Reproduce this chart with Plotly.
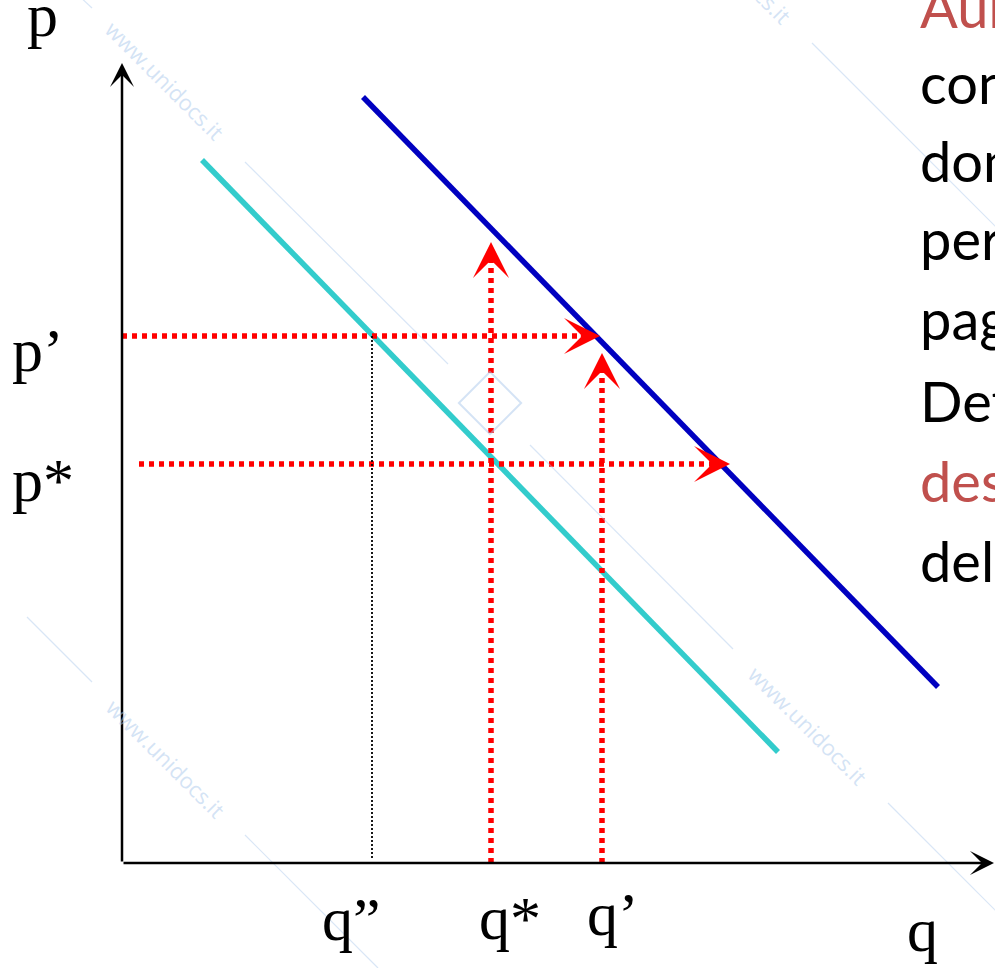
import plotly.graph_objects as go

# coordinates: q to the right, p upwards, origin at the corner of the axes
# demand curves (end points)
q_d = [80, 656]
p_d = [703, 111]
q_d2 = [241, 816]
p_d2 = [766, 176]

# reference levels
p_prime = 527
p_star = 399
q_second = 250
q_star = 369
q_prime = 480

# arrow tips / starts of the dotted guides
p_prime_tip = 478
p_star_start = 17
p_star_tip = 608
q_star_tip = 621
q_prime_tip = 510
q_second_low = 5

# axes ends
q_axis_end = 872
p_axis_end = 800

# text on the right (cut by the page border)
side_lines = ["Aumento", "con", "domanda", "per", "pagare", "Determina", "desiderio", "della"]
side_colors = ["#C0504D", "black", "black", "black", "black", "black", "#C0504D", "black"]
side_y = [857, 781, 703, 625, 545, 463, 383, 303]

# axis labels: text, q, p
labels = ["p", "p\u2019", "p*", "q\u201d", "q*", "q\u2019", "q"]
labels_q = [-97, -112, -112, 198, 355, 463, 783]
labels_p = [848, 513, 383, -56, -55, -51, -67]

# watermark
wm_text = "www.unidocs.it"
wm_x = [165, 166, 808, 732]
wm_y = [80, 758, 725, -36]
wm_lines = [
    (123, 701, 326, 499),
    (408, 418, 611, 214),
    (690, 820, 893, 617),
    (766, 60, 969, -143),
    (-95, 246, -30, 181),
    (123, 28, 256, -105),
    (-60, 883, -30, 855),
]

W, H = 995, 968
red = "#FF0000"
wm_col = "rgba(170,200,235,0.5)"

fig = go.Figure()

fig.add_trace(go.Scatter(x=q_d, y=p_d, mode="lines",
                         line=dict(color="#33CCCC", width=5.5)))
fig.add_trace(go.Scatter(x=q_d2, y=p_d2, mode="lines",
                         line=dict(color="#0000C0", width=5.5)))

dot = dict(color=red, width=5.5, dash="5px,5px")
fig.add_trace(go.Scatter(x=[0, p_prime_tip - 10], y=[p_prime, p_prime], mode="lines", line=dot))
fig.add_trace(go.Scatter(x=[p_star_start, p_star_tip - 10], y=[p_star, p_star], mode="lines", line=dot))
fig.add_trace(go.Scatter(x=[q_star, q_star], y=[0, q_star_tip - 10], mode="lines", line=dot))
fig.add_trace(go.Scatter(x=[q_prime, q_prime], y=[0, q_prime_tip - 10], mode="lines", line=dot))
fig.add_trace(go.Scatter(x=[q_second, q_second], y=[q_second_low, p_prime], mode="lines",
                         line=dict(color="black", width=1.8, dash="2px,2px")))

# faint logo of the watermark
fig.add_trace(go.Scatter(x=[368], y=[460], mode="markers",
                         marker=dict(symbol="square-open", size=44, angle=45, color=wm_col,
                                     line=dict(color=wm_col, width=2))))


def arrow(x, y, ax, ay, color, width, size):
    return dict(x=x, y=y, ax=ax, ay=ay, xref="x", yref="y", axref="x", ayref="y",
                text="", showarrow=True, arrowhead=3, arrowsize=size,
                arrowwidth=width, arrowcolor=color, standoff=0)


ann = [
    arrow(0, p_axis_end, 0, 0, "black", 2.5, 1.6),
    arrow(q_axis_end, 0, 0, 0, "black", 2.5, 1.6),
    arrow(p_prime_tip, p_prime, p_prime_tip - 14, p_prime, red, 2, 3),
    arrow(p_star_tip, p_star, p_star_tip - 14, p_star, red, 2, 3),
    arrow(q_star, q_star_tip, q_star, q_star_tip - 14, red, 2, 3),
    arrow(q_prime, q_prime_tip, q_prime, q_prime_tip - 14, red, 2, 3),
]

for t, q, p in zip(labels, labels_q, labels_p):
    ann.append(dict(x=q, y=p, xref="x", yref="y", text=t, showarrow=False,
                    xanchor="left", yanchor="middle",
                    font=dict(family="Liberation Serif", size=62, color="black")))

for t, c, p in zip(side_lines, side_colors, side_y):
    ann.append(dict(x=796, y=p, xref="x", yref="y", text=t, showarrow=False,
                    xanchor="left", yanchor="middle",
                    font=dict(family="Lato", size=56, color=c)))

for x, y in zip(wm_x, wm_y):
    ann.append(dict(x=x / W, y=1 - y / H, xref="paper", yref="paper", text=wm_text,
                    showarrow=False, textangle=45, xanchor="center", yanchor="middle",
                    font=dict(family="Open Sans", size=22, color=wm_col)))

shapes = [dict(type="line", x0=a, y0=b, x1=c, y1=d, xref="x", yref="y", layer="above",
               line=dict(color="rgba(170,200,235,0.45)", width=1.2))
          for a, b, c, d in wm_lines]

fig.update_layout(
    width=W, height=H,
    margin=dict(l=0, r=0, t=0, b=0),
    paper_bgcolor="white", plot_bgcolor="white",
    showlegend=False, hovermode=False,
    xaxis=dict(range=[-122, 873], visible=False, fixedrange=True),
    yaxis=dict(range=[-105, 863], visible=False, fixedrange=True),
    annotations=ann, shapes=shapes,
)

fig.write_html("out.html", config={"displayModeBar": False},
               post_script="document.body.style.margin='0px';")
